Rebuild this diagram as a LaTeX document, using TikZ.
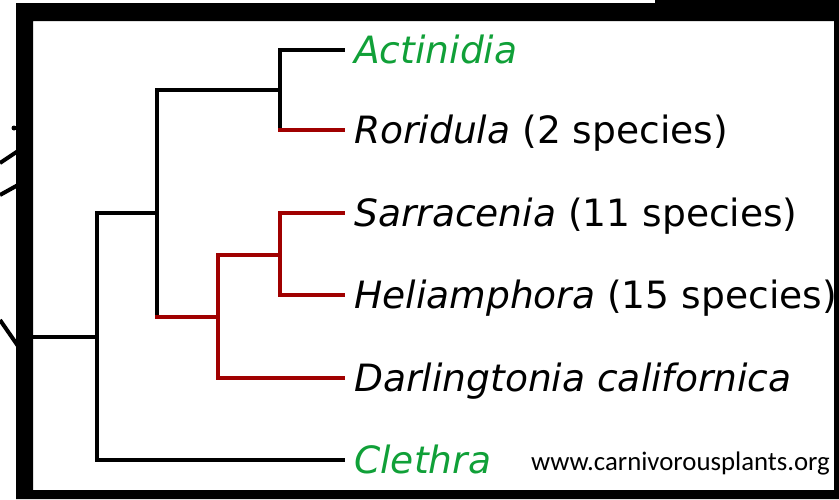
\documentclass[tikz,border=0pt]{standalone}
\usepackage{fontspec}
\setmainfont{DejaVu Sans}
\newfontfamily\webfont{Carlito}
\definecolor{treered}{RGB}{160,0,0}
\definecolor{taxgreen}{RGB}{16,160,56}
\begin{document}
\begin{tikzpicture}[x=1pt,y=-1pt,
  branch/.style={line width=4.2pt,line cap=rect,line join=miter},
  blk/.style={branch,black},
  rd/.style={branch,treered},
  taxon/.style={anchor=base west,inner sep=0pt,font=\fontsize{37.6}{44}\selectfont},
  web/.style={anchor=base west,inner sep=0pt,font=\webfont\fontsize{26.8}{30}\selectfont}]
\useasboundingbox (0,0) rectangle (839,499);
% partial lines outside the frame
\draw[line width=4pt] (0,163) -- (18,151);
\draw[line width=4pt] (0,195) -- (18,185);
\draw[line width=4pt] (0,320) -- (18,346);
\fill (14,128) circle (2.5pt);
% tree coordinates
\coordinate (root) at (20,337);
\coordinate (n1t) at (97,213);
\coordinate (n1b) at (97,460);
\coordinate (n1m) at (97,337);
\coordinate (n2t) at (157,90);
\coordinate (n2b) at (157,317);
\coordinate (n2m) at (157,213);
\coordinate (n3t) at (280,50);
\coordinate (n3b) at (280,130);
\coordinate (n3m) at (280,90);
\coordinate (n4t) at (218,255);
\coordinate (n4b) at (218,378);
\coordinate (n4m) at (218,317);
\coordinate (n5t) at (280,213);
\coordinate (n5b) at (280,295);
\coordinate (n5m) at (280,255);
\coordinate (eA) at (343,50);
\coordinate (eR) at (343,130);
\coordinate (eS) at (343,213);
\coordinate (eH) at (343,295);
\coordinate (eD) at (343,378);
\coordinate (eC) at (343,460);
% black branches
\draw[blk] (root) -- (n1m);
\draw[blk] (n1t) -- (n1b) -- (eC);
\draw[blk] (n1t) -- (n2m);
\draw[blk] (n2b) -- (n2t) -- (n3m);
\draw[blk] (n3b) -- (n3t) -- (eA);
% red branches
\draw[rd] (n3b) -- (eR);
\draw[rd] (n2b) -- (n4m);
\draw[rd] (n4t) -- (n4b) -- (eD);
\draw[rd] (n4t) -- (n5m);
\draw[rd] (eS) -- (n5t) -- (n5b) -- (eH);
% labels
\node[taxon,text=taxgreen] (lA) at (354,63) {\itshape Actinidia};
\node[taxon] (lR) at (354,143) {\itshape Roridula\upshape{} (2 species)};
\node[taxon] (lS) at (354,226) {\itshape Sarracenia\upshape{} (11 species)};
\node[taxon] (lH) at (354,308) {\itshape Heliamphora\upshape{} (15 species)};
\node[taxon] (lD) at (354,391) {\itshape Darlingtonia californica};
\node[taxon,text=taxgreen] (lC) at (354,473) {\itshape Clethra};
\node[web] (site) at (531,470) {www.carnivorousplants.org};
% frame
\fill[black,even odd rule] (16,3) rectangle (839,499) (33,21) rectangle (834,490);
\fill[black] (655,0) rectangle (839,3);
\end{tikzpicture}
\end{document}
